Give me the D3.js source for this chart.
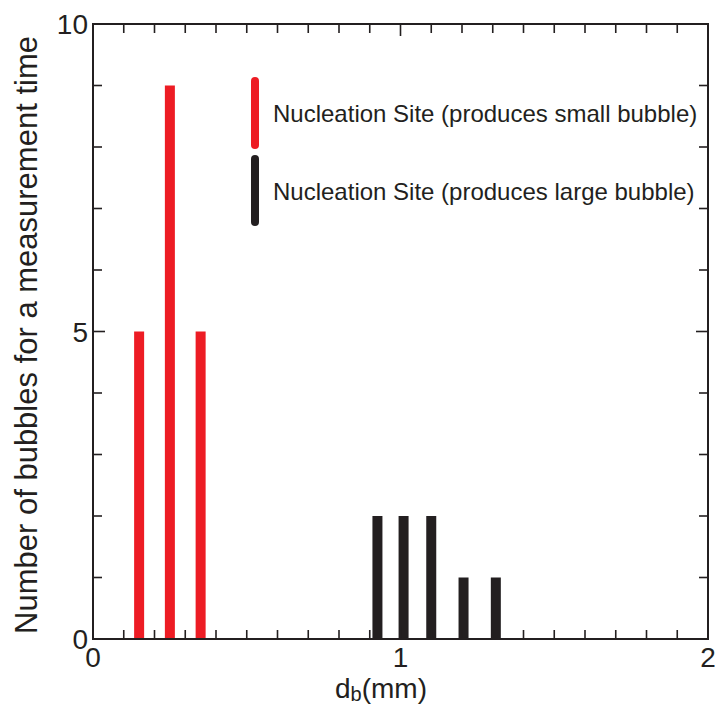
<!DOCTYPE html>
<html>
<head>
<meta charset="utf-8">
<script src="https://cdn.jsdelivr.net/npm/d3@7"></script>
<style>
  body { margin: 0; background: #fff; }
  text { font-family: "Liberation Sans", Arial, sans-serif; fill: #231f20; }
</style>
</head>
<body>
<div id="chart"></div>
<script>
// bubble diameter (mm) and count, per nucleation site type
const smallDiam = [0.15, 0.25, 0.35];
const smallCount = [5, 9, 5];
const largeDiam = [0.925, 1.01, 1.1, 1.205, 1.31];
const largeCount = [2, 2, 2, 1, 1];
const xTicks = [0, 1, 2];
const yTicks = [0, 5, 10];
const legendLabels = ["Nucleation Site (produces small bubble)", "Nucleation Site (produces large bubble)"];

const W = 715, H = 706;
const margin = {top: 24, right: 7, bottom: 67, left: 93};
const width = W - margin.left - margin.right;
const height = H - margin.top - margin.bottom;
const ink = "#231f20", red = "#ed1c24";

const svg = d3.select("#chart").append("svg")
    .attr("width", W).attr("height", H);
const g = svg.append("g")
    .attr("transform", "translate(" + margin.left + "," + margin.top + ")");

const x = d3.scaleLinear().domain([0, 2]).range([0, width]);
const y = d3.scaleLinear().domain([0, 10]).range([height, 0]);

// bars
const barW = 10;
function drawBars(diam, count, color) {
    g.append("g").selectAll("rect")
        .data(diam.map((d, i) => ({d: d, n: count[i]})))
        .join("rect")
        .attr("x", d => x(d.d) - barW / 2)
        .attr("y", d => y(d.n))
        .attr("width", barW)
        .attr("height", d => y(0) - y(d.n))
        .attr("fill", color);
}
drawBars(smallDiam, smallCount, red);
drawBars(largeDiam, largeCount, ink);

// inward ticks on all four sides
const xMinor = d3.range(0, 21).map(i => i / 10);
const yMinor = d3.range(0, 11);
function tickLen(v, majors) { return majors.some(m => Math.abs(m - v) < 1e-9) ? 12 : 9; }

const ticks = g.append("g").attr("stroke", ink).attr("stroke-width", 1.6);
xMinor.forEach(v => {
    const l = tickLen(v, xTicks);
    ticks.append("line").attr("x1", x(v)).attr("x2", x(v)).attr("y1", height).attr("y2", height - l);
    ticks.append("line").attr("x1", x(v)).attr("x2", x(v)).attr("y1", 0).attr("y2", l);
});
yMinor.forEach(v => {
    const l = tickLen(v, yTicks);
    ticks.append("line").attr("y1", y(v)).attr("y2", y(v)).attr("x1", 0).attr("x2", l);
    ticks.append("line").attr("y1", y(v)).attr("y2", y(v)).attr("x1", width).attr("x2", width - l);
});

// frame
g.append("rect")
    .attr("width", width).attr("height", height)
    .attr("fill", "none").attr("stroke", ink).attr("stroke-width", 2);

// tick labels
g.selectAll(".xlab").data(xTicks).join("text")
    .attr("class", "xlab")
    .attr("x", d => x(d)).attr("y", height + 28)
    .attr("text-anchor", "middle")
    .style("font-size", "28px")
    .text(d => d);
g.selectAll(".ylab").data(yTicks).join("text")
    .attr("class", "ylab")
    .attr("x", -5).attr("y", d => y(d))
    .attr("dy", "0.36em")
    .attr("text-anchor", "end")
    .style("font-size", "28px")
    .text(d => d);

// axis titles
const xt = svg.append("text")
    .attr("x", 335).attr("y", 698)
    .style("font-size", "28px");
xt.append("tspan").text("d");
xt.append("tspan").attr("dy", 3).style("font-size", "20px").text("b");
xt.append("tspan").attr("dy", -3).text("(mm)");

svg.append("text")
    .attr("transform", "translate(37,335) rotate(-90)")
    .attr("text-anchor", "middle")
    .style("font-size", "31px")
    .text("Number of bubbles for a measurement time");

// legend
const legend = svg.append("g");
const legColors = [red, ink];
const legY = [[77, 149], [155, 226]];
legColors.forEach((c, i) => {
    legend.append("line")
        .attr("x1", 255).attr("x2", 255)
        .attr("y1", legY[i][0] + 4).attr("y2", legY[i][1] - 4)
        .attr("stroke", c).attr("stroke-width", 8)
        .attr("stroke-linecap", "round");
    legend.append("text")
        .attr("x", 273).attr("y", (legY[i][0] + legY[i][1]) / 2 + 9)
        .style("font-size", "24px")
        .text(legendLabels[i]);
});
</script>
</body>
</html>
